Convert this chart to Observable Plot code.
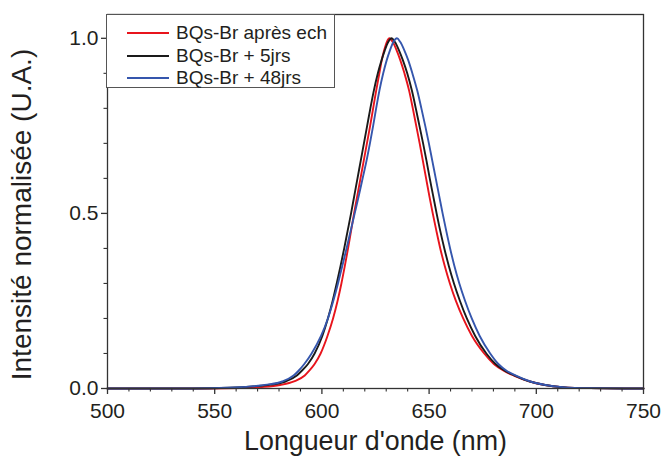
<!DOCTYPE html>
<html>
<head>
<meta charset="utf-8">
<script src="https://cdn.jsdelivr.net/npm/d3@7"></script>
<script src="https://cdn.jsdelivr.net/npm/@observablehq/plot@0.6"></script>
<style>
  html, body { margin: 0; padding: 0; background: #fff; }
  #wrap { position: relative; width: 663px; height: 466px; font-family: "Liberation Sans", Arial, sans-serif; color: #231f20; }
  #wrap svg { display: block; }
  #legend { position: absolute; left: 106px; top: 14px; width: 229px; height: 74px; border: 1px solid #555; background: #fff; box-sizing: border-box; padding-top: 7px; }
  .row { display: flex; align-items: center; height: 22.5px; font-size: 19px; }
  .sw { width: 42px; height: 0; border-top: 2px solid; margin-left: 20px; margin-right: 7px; }
</style>
</head>
<body>
<div id="wrap"></div>
<script>
// ---- data ----
const seriesNames = ["BQs-Br après ech", "BQs-Br + 5jrs", "BQs-Br + 48jrs"];
const seriesColors = ["#e8141c", "#1a1a1a", "#3556ad"];

// wavelength (nm) / normalized intensity pairs
const redWl = [500, 548, 562, 572, 580.5, 587, 592.0, 594.0, 596.6, 599.4, 602.6, 605.2, 607.3, 609.1, 610.7, 612.2, 613.6, 615.0, 616.5, 618.0, 619.5, 621.0, 622.5, 623.9, 625.3, 626.8, 627.9, 629.0, 630.3, 631.5, 633.0, 634.9, 636.6, 638.5, 640.7, 642.4, 644.0, 645.6, 647.1, 648.6, 650.1, 651.7, 653.4, 655.2, 657.3, 659.7, 662.5, 665.9, 670.0, 675.7, 680.2, 685, 689.5, 697, 704, 712, 725, 750];
const redI  = [0, 0, 0.001, 0.004, 0.01, 0.02, 0.037, 0.05, 0.07, 0.1, 0.15, 0.2, 0.25, 0.3, 0.35, 0.4, 0.45, 0.5, 0.55, 0.6, 0.65, 0.7, 0.75, 0.8, 0.85, 0.9, 0.937, 0.965, 0.99, 1.0, 0.99, 0.965, 0.937, 0.9, 0.85, 0.8, 0.75, 0.7, 0.65, 0.6, 0.55, 0.5, 0.45, 0.4, 0.35, 0.3, 0.25, 0.2, 0.15, 0.1, 0.07, 0.05, 0.037, 0.02, 0.01, 0.004, 0.001, 0];

const blackWl = [500, 540, 557, 568, 576, 583, 588.3, 590.5, 593.5, 596.6, 600.2, 602.8, 605.0, 606.9, 608.7, 610.4, 612.0, 613.6, 615.1, 616.6, 618.1, 619.6, 621.1, 622.6, 624.2, 626.1, 627.8, 629.3, 631.0, 632.5, 634.0, 636.0, 637.8, 639.8, 642.0, 643.8, 645.5, 647.2, 648.8, 650.3, 651.9, 653.5, 655.2, 657.1, 659.2, 661.6, 664.4, 667.6, 671.5, 676.7, 681, 685.5, 690, 697, 704, 712, 725, 750];
const blackI  = [0, 0, 0.002, 0.006, 0.011, 0.02, 0.037, 0.05, 0.07, 0.1, 0.15, 0.2, 0.25, 0.3, 0.35, 0.4, 0.45, 0.5, 0.55, 0.6, 0.65, 0.7, 0.75, 0.8, 0.85, 0.9, 0.937, 0.965, 0.99, 1.0, 0.99, 0.965, 0.937, 0.9, 0.85, 0.8, 0.75, 0.7, 0.65, 0.6, 0.55, 0.5, 0.45, 0.4, 0.35, 0.3, 0.25, 0.2, 0.15, 0.1, 0.07, 0.05, 0.037, 0.02, 0.01, 0.004, 0.001, 0];

const blueWl = [500, 540, 556, 567, 574.5, 581.5, 586.8, 589.0, 591.8, 595.2, 599.6, 602.8, 605.3, 607.5, 609.5, 611.5, 613.4, 615.3, 617.2, 619.0, 620.8, 622.4, 623.9, 625.3, 626.8, 628.6, 630.2, 631.7, 633.4, 635.0, 636.5, 638.5, 640.3, 642.2, 644.5, 646.4, 648.2, 649.9, 651.5, 653.1, 654.7, 656.3, 658.0, 659.8, 661.8, 664.1, 666.8, 669.9, 673.6, 678.5, 682.3, 686.3, 690.5, 697.3, 704.3, 712.3, 725, 750];
const blueI  = [0, 0, 0.002, 0.006, 0.011, 0.02, 0.037, 0.05, 0.07, 0.1, 0.15, 0.2, 0.25, 0.3, 0.35, 0.4, 0.45, 0.5, 0.55, 0.6, 0.65, 0.7, 0.75, 0.8, 0.85, 0.9, 0.937, 0.965, 0.99, 1.0, 0.99, 0.965, 0.937, 0.9, 0.85, 0.8, 0.75, 0.7, 0.65, 0.6, 0.55, 0.5, 0.45, 0.4, 0.35, 0.3, 0.25, 0.2, 0.15, 0.1, 0.07, 0.05, 0.037, 0.02, 0.01, 0.004, 0.001, 0];

const xTicks = [500, 550, 600, 650, 700, 750];
const xMinorTicks = [510, 520, 530, 540, 560, 570, 580, 590, 610, 620, 630, 640, 660, 670, 680, 690, 710, 720, 730, 740];
const yTicks = [0.0, 0.5, 1.0];
const yMinorTicks = [0.1, 0.2, 0.3, 0.4, 0.6, 0.7, 0.8, 0.9];
const xLabel = "Longueur d'onde (nm)";
const yLabel = "Intensité normalisée (U.A.)";

// ---- build table ----
const allWl = [redWl, blackWl, blueWl];
const allI = [redI, blackI, blueI];
const rows = [];
allWl.forEach((wl, s) => wl.forEach((w, i) => rows.push({series: seriesNames[s], wl: w, v: allI[s][i]})));

const ink = "#231f20";
const chart = Plot.plot({
  width: 663,
  height: 466,
  marginLeft: 107,
  marginRight: 20,
  marginTop: 14,
  marginBottom: 78,
  style: {fontFamily: "'Liberation Sans', Arial, sans-serif", color: ink, background: "#fff"},
  x: {domain: [500, 750]},
  y: {domain: [0, 1.068]},
  color: {domain: seriesNames, range: seriesColors},
  marks: [
    Plot.line(rows, {x: "wl", y: "v", z: "series", stroke: "series", strokeWidth: 1.9, curve: "monotone-x"}),
    Plot.frame({stroke: "#333", strokeWidth: 1.3}),
    Plot.axisX(xTicks, {tickSize: 6, tickPadding: 9, fontSize: 21, label: null, stroke: "#333", strokeWidth: 1.3}),
    Plot.axisX(xMinorTicks, {tickSize: 3.5, tickFormat: () => "", label: null, stroke: "#333", strokeWidth: 1.1}),
    Plot.axisY(yTicks, {tickSize: 6, tickPadding: 3, fontSize: 21, tickFormat: d3.format(".1f"), label: null, stroke: "#333", strokeWidth: 1.3}),
    Plot.axisY(yMinorTicks, {tickSize: 3.5, tickFormat: () => "", label: null, stroke: "#333", strokeWidth: 1.1}),
    Plot.text([xLabel], {frameAnchor: "bottom", dy: 61, fontSize: 26.8, fill: ink}),
    Plot.text([yLabel], {frameAnchor: "left", textAnchor: "middle", rotate: -90, dx: -85, dy: 13, fontSize: 28, fill: ink})
  ]
});

const wrap = document.getElementById("wrap");
wrap.appendChild(chart);

const legend = document.createElement("div");
legend.id = "legend";
seriesNames.forEach((name, i) => {
  const row = document.createElement("div");
  row.className = "row";
  const sw = document.createElement("span");
  sw.className = "sw";
  sw.style.borderTopColor = seriesColors[i];
  const t = document.createElement("span");
  t.textContent = name;
  row.appendChild(sw);
  row.appendChild(t);
  legend.appendChild(row);
});
wrap.appendChild(legend);
</script>
</body>
</html>
